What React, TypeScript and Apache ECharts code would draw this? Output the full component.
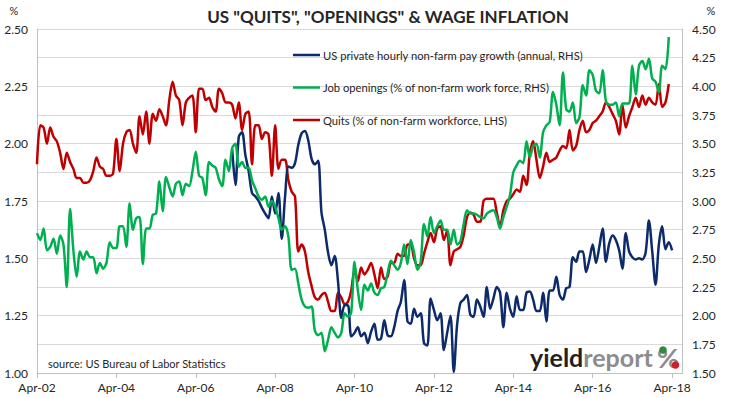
import React, { useEffect, useRef } from 'react';
import * as echarts from 'echarts';

// ---- axis categories (monthly, Apr-02 .. Jul-18) ----
const MONTH_NAMES = ['Jan', 'Feb', 'Mar', 'Apr', 'May', 'Jun', 'Jul', 'Aug', 'Sep', 'Oct', 'Nov', 'Dec'];
const START_YEAR = 2002;
const START_MONTH = 3; // April
const MONTH_COUNT = 196;
const categories: string[] = Array.from({ length: MONTH_COUNT }, (_, i) => {
  const m = START_MONTH + i;
  const y = START_YEAR + Math.floor(m / 12);
  return `${MONTH_NAMES[m % 12]}-${String(y % 100).padStart(2, '0')}`;
});

// ---- series names ----
const payName = 'US private hourly non-farm pay growth (annual, RHS)';
const openName = 'Job openings (% of non-farm work force, RHS)';
const quitName = 'Quits (% of non-farm workforce, LHS)';

// ---- Quits, % (LHS), from Apr-02 ----
const quits = [
  1.91, 2.08, 2.07, 2.00, 2.07, 2.03, 2.01, 1.96, 1.89, 1.96, 1.92, 1.89,
  1.85, 1.85, 1.83, 1.83, 1.84, 1.88, 1.94, 1.90, 1.89, 1.86, 1.86, 1.87,
  2.02, 1.88, 2.00, 2.05, 2.06, 2.00, 1.96, 2.12, 2.04, 2.14, 2.00, 2.13,
  2.10, 2.15, 2.12, 2.08, 2.19, 2.27, 2.21, 2.19, 2.08, 2.18, 2.20, 2.21,
  2.05, 2.24, 2.24, 2.19, 2.20, 2.16, 2.14, 2.24, 2.22, 2.18, 2.18, 2.17,
  2.11, 2.18, 2.06, 2.13, 2.14, 1.91, 2.08, 2.08, 2.02, 2.05, 2.04, 1.86,
  2.08, 1.89, 1.93, 1.93, 1.84, 1.79, 1.77, 1.53, 1.56, 1.53, 1.44, 1.38,
  1.33, 1.32, 1.34, 1.35, 1.31, 1.27, 1.27, 1.35, 1.33, 1.30, 1.31, 1.36,
  1.45, 1.40, 1.46, 1.43, 1.45, 1.48, 1.43, 1.37, 1.46, 1.41, 1.42, 1.48,
  1.48, 1.52, 1.51, 1.51, 1.56, 1.56, 1.50, 1.47, 1.47, 1.52, 1.57, 1.61,
  1.57, 1.63, 1.64, 1.58, 1.62, 1.47, 1.53, 1.54, 1.55, 1.60, 1.68, 1.70,
  1.69, 1.66, 1.66, 1.75, 1.76, 1.76, 1.76, 1.70, 1.64, 1.71, 1.75, 1.76,
  1.78, 1.80, 1.79, 1.86, 1.82, 1.96, 2.01, 1.93, 1.85, 1.90, 1.96, 1.92,
  1.93, 1.94, 1.97, 1.99, 1.98, 2.06, 1.97, 1.99, 2.06, 2.10, 2.05, 2.06,
  2.09, 2.10, 2.12, 2.14, 2.18, 2.16, 2.13, 2.10, 2.04, 2.17, 2.07, 2.12,
  2.16, 2.20, 2.16, 2.21, 2.17, 2.20, 2.18, 2.17, 2.26, 2.16, 2.18, 2.26,
];

// ---- Job openings, % (RHS), from Apr-02 ----
const openings = [
  2.72, 2.66, 2.76, 2.57, 2.60, 2.67, 2.54, 2.70, 2.62, 2.25, 2.93, 2.57,
  2.34, 2.56, 2.49, 2.56, 2.51, 2.51, 2.37, 2.46, 2.41, 2.46, 2.64, 2.59,
  2.59, 2.78, 2.78, 2.60, 2.98, 2.75, 2.85, 2.86, 2.45, 2.76, 2.76, 2.88,
  2.89, 3.17, 2.91, 3.21, 3.12, 3.04, 3.15, 3.17, 3.05, 3.15, 3.13, 3.26,
  3.43, 3.22, 3.20, 3.05, 3.34, 3.31, 3.29, 3.19, 3.13, 3.36, 3.26, 3.46,
  3.50, 3.30, 3.34, 3.29, 3.29, 3.18, 3.11, 3.04, 3.01, 3.04, 2.95, 3.00,
  2.95, 2.85, 2.75, 2.78, 2.69, 2.40, 2.41, 2.28, 2.14, 2.08, 2.07, 2.08,
  1.87, 1.83, 1.85, 1.69, 1.79, 1.90, 1.85, 1.81, 1.85, 2.02, 1.99, 2.03,
  2.47, 2.22, 2.05, 2.27, 2.22, 2.28, 2.20, 2.18, 2.24, 2.25, 2.37, 2.48,
  2.44, 2.40, 2.46, 2.62, 2.45, 2.66, 2.55, 2.40, 2.47, 2.80, 2.69, 2.86,
  2.72, 2.78, 2.83, 2.75, 2.75, 2.62, 2.75, 2.62, 2.65, 2.80, 2.92, 2.89,
  2.89, 2.88, 2.86, 2.85, 2.89, 2.91, 2.92, 2.86, 2.76, 2.86, 2.95, 3.05,
  3.25, 3.31, 3.35, 3.33, 3.52, 3.38, 3.48, 3.50, 3.38, 3.60, 3.66, 3.69,
  3.95, 3.84, 3.66, 4.12, 3.80, 3.78, 3.86, 3.68, 3.73, 4.01, 3.92, 4.14,
  4.10, 3.96, 3.94, 4.14, 3.87, 3.84, 3.84, 3.86, 3.74, 3.85, 3.85, 3.85,
  4.18, 3.93, 4.18, 4.22, 4.15, 4.24, 4.07, 4.04, 3.95, 4.18, 4.15, 4.43,
];

// ---- Private hourly pay growth, % y/y (RHS), from Mar-07 (month index 59) ----
const payGrowthStart = 59;
const payGrowth = [
  3.45, 3.14, 3.56, 3.60, 3.40, 3.26, 3.07, 3.04, 3.00, 2.94, 2.89, 2.85, 3.04,
  2.89, 3.07, 2.67, 3.04, 3.30, 3.29, 3.33, 3.49, 3.59, 3.61, 3.53, 3.37,
  3.32, 3.35, 2.90, 2.75, 2.55, 2.44, 2.52, 2.30, 1.98, 2.09, 2.09, 1.82,
  1.85, 1.90, 1.82, 1.85, 1.76, 1.86, 1.93, 1.79, 1.80, 1.96, 1.83, 1.82,
  1.90, 2.04, 2.12, 2.31, 1.95, 1.93, 2.06, 1.99, 2.02, 1.76, 1.74, 2.15,
  2.05, 1.96, 2.02, 1.70, 1.85, 2.00, 1.51, 1.92, 2.11, 2.14, 2.18, 2.01,
  1.99, 2.14, 2.08, 1.99, 2.25, 2.06, 2.15, 2.25, 2.20, 1.90, 2.20, 2.06,
  1.99, 2.17, 2.05, 2.05, 2.20, 2.21, 2.14, 2.04, 2.04, 2.20, 1.95, 2.22,
  2.22, 2.34, 2.18, 2.14, 2.24, 2.25, 2.51, 2.47, 2.56, 2.56, 2.38, 2.49,
  2.62, 2.46, 2.60, 2.76, 2.47, 2.63, 2.70, 2.66, 2.57, 2.41, 2.72, 2.56,
  2.51, 2.49, 2.50, 2.49, 2.55, 2.83, 2.56, 2.27, 2.62, 2.78, 2.58, 2.64, 2.57,
];

const LEFT_MIN = 1.0;
const LEFT_MAX = 2.5;
const LEFT_STEP = 0.125;
const RIGHT_MIN = 1.5;
const RIGHT_MAX = 4.5;
const RIGHT_STEP = 0.25;

const FONT = 'Lato, "Open Sans", sans-serif';

export default function App() {
  const ref = useRef<HTMLDivElement>(null);

  useEffect(() => {
    document.body.style.margin = '0';
    const chart = echarts.init(ref.current!, null, { renderer: 'svg' });
    const payData = (new Array(payGrowthStart).fill(null) as (number | null)[]).concat(payGrowth);

    chart.setOption({
      animation: false,
      backgroundColor: '#ffffff',
      textStyle: { fontFamily: FONT },
      grid: { left: 37, right: 49, top: 29, bottom: 25, containLabel: false },
      legend: {
        orient: 'vertical',
        left: 293,
        top: 48,
        padding: 0,
        data: [
          { name: payName, icon: 'rect' },
          { name: openName, icon: 'rect' },
          { name: quitName, icon: 'rect' },
        ],
        itemWidth: 27,
        itemHeight: 2.5,
        itemGap: 18.5,
        textStyle: { fontFamily: FONT, fontSize: 11.2, lineHeight: 14, color: '#262626', padding: [0, 0, 0, -2] },
      },
      xAxis: {
        type: 'category',
        data: categories,
        boundaryGap: false,
        axisLine: { show: true, lineStyle: { color: '#bfbfbf', width: 1 } },
        axisTick: { show: true, interval: 23, length: 5, lineStyle: { color: '#bfbfbf' } },
        axisLabel: { interval: 23, color: '#262626', fontSize: 12, margin: 8, fontFamily: FONT },
        splitLine: { show: false },
      },
      yAxis: [
        {
          type: 'value',
          position: 'left',
          min: LEFT_MIN,
          max: LEFT_MAX,
          interval: LEFT_STEP,
          axisLine: { show: true, lineStyle: { color: '#bfbfbf' } },
          axisTick: { show: false },
          splitLine: { show: true, lineStyle: { color: '#d9d9d9', width: 1 } },
          axisLabel: {
            color: '#262626',
            fontSize: 12,
            margin: 9,
            fontFamily: FONT,
            formatter: (v: number) => (Math.abs(v * 4 - Math.round(v * 4)) < 1e-6 ? v.toFixed(2) : ''),
          },
        },
        {
          type: 'value',
          position: 'right',
          min: RIGHT_MIN,
          max: RIGHT_MAX,
          interval: RIGHT_STEP,
          axisLine: { show: true, lineStyle: { color: '#bfbfbf' } },
          axisTick: { show: false },
          splitLine: { show: false },
          axisLabel: {
            color: '#262626',
            fontSize: 12,
            margin: 10,
            fontFamily: FONT,
            formatter: (v: number) => v.toFixed(2),
          },
        },
      ],
      series: [
        {
          name: quitName,
          type: 'line',
          yAxisIndex: 0,
          data: quits,
          symbol: 'none',
          smooth: 0.3,
          lineStyle: { color: '#c00000', width: 2.5 },
          itemStyle: { color: '#c00000' },
          z: 2,
        },
        {
          name: payName,
          type: 'line',
          yAxisIndex: 1,
          data: payData,
          symbol: 'none',
          smooth: 0.3,
          lineStyle: { color: '#0d2b6b', width: 2.5 },
          itemStyle: { color: '#0d2b6b' },
          z: 3,
        },
        {
          name: openName,
          type: 'line',
          yAxisIndex: 1,
          data: openings,
          symbol: 'none',
          smooth: 0.3,
          lineStyle: { color: '#00b050', width: 2.5 },
          itemStyle: { color: '#00b050' },
          z: 4,
        },
      ],
      graphic: [
        {
          type: 'text',
          x: 388,
          y: 16,
          style: {
            text: 'US "QUITS", "OPENINGS" & WAGE INFLATION',
            font: `bold 17px ${FONT}`,
            fill: '#262626',
            textAlign: 'center',
            textVerticalAlign: 'middle',
          },
        },
        {
          type: 'text',
          x: 14,
          y: 10,
          style: { text: '%', font: `11px ${FONT}`, fill: '#262626', textAlign: 'center', textVerticalAlign: 'middle' },
        },
        {
          type: 'text',
          x: 711,
          y: 10,
          style: { text: '%', font: `11px ${FONT}`, fill: '#262626', textAlign: 'center', textVerticalAlign: 'middle' },
        },
        {
          type: 'text',
          x: 48,
          y: 363,
          style: {
            text: 'source: US Bureau of Labor Statistics',
            font: `11px ${FONT}`,
            fill: '#262626',
            textAlign: 'left',
            textVerticalAlign: 'middle',
          },
        },
        {
          type: 'text',
          x: 530,
          y: 357,
          z: 10,
          style: {
            text: '{a|yield}{b|report}',
            textVerticalAlign: 'middle',
            rich: {
              a: { font: `bold 25px ${FONT}`, fill: '#231f20' },
              b: { font: `bold 25px ${FONT}`, fill: '#8c8c8c' },
            },
          },
        },
        {
          type: 'text',
          x: 657,
          y: 357,
          z: 10,
          style: {
            text: '%',
            font: `bold 27px ${FONT}`,
            fill: '#8c8c8c',
            textVerticalAlign: 'middle',
          },
        },
        { type: 'circle', z: 11, shape: { cx: 663, cy: 350, r: 3.8 }, style: { fill: '#2e8b3e' } },
        { type: 'circle', z: 11, shape: { cx: 675.5, cy: 365, r: 3.8 }, style: { fill: '#d01f2a' } },
      ],
    });

    return () => chart.dispose();
  }, []);

  return <div ref={ref} style={{ width: 731, height: 398 }} />;
}
